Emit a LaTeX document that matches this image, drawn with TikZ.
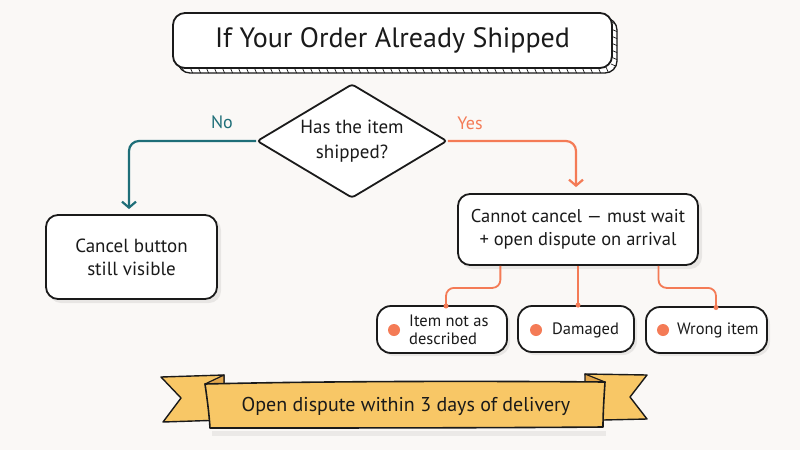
\documentclass[tikz,border=0pt]{standalone}
\usepackage{fontspec}
\setmainfont{PT Sans}
\usetikzlibrary{shapes.geometric,arrows.meta,calc}
\definecolor{bg}{HTML}{FAF8F6}
\definecolor{teal}{HTML}{1E6E78}
\definecolor{orng}{HTML}{F47B56}
\definecolor{ribbon}{HTML}{F8C766}
\definecolor{ribbondark}{HTML}{E2A64C}
\definecolor{ink}{HTML}{1A1A1A}
\tikzset{
  sketchbox/.style={draw=ink, line width=1.8pt, rounded corners=12pt, fill=white, inner sep=0pt},
  shadowbox/.style={fill=black, opacity=0.07, rounded corners=12pt, draw=none},
  txt/.style={text=ink, font=\fontsize{18}{22}\selectfont, align=center},
  smalltxt/.style={text=ink, font=\fontsize{16.5}{18}\selectfont, align=left, inner sep=0pt},
  conn/.style={line width=2.2pt, rounded corners=10pt},
  subconn/.style={line width=1.8pt, draw=orng, rounded corners=8pt},
  tip/.style={-{Straight Barb[length=6pt,width=14pt,line width=2.2pt]}},
  bullet/.style={circle, fill=orng, minimum size=12pt, inner sep=0pt},
  enddot/.style={circle, fill=orng, minimum size=5pt, inner sep=0pt},
}
\begin{document}
\begin{tikzpicture}[x=1pt,y=-1pt]
\fill[bg] (0,0) rectangle (800,450);
\useasboundingbox (0,0) rectangle (800,450);

% ---------- title with 3D edge ----------
\begin{scope}
  \path[draw=ink, line width=1.3pt, fill=white, rounded corners=12pt] (178,18) rectangle (617,73);
  \clip[rounded corners=12pt] (178,18) rectangle (617,73);
  \foreach \x in {182,190,...,614} \draw[ink, line width=0.7pt] (\x,67) -- (\x+3,74);
  \foreach \y in {22,29,...,70} \draw[ink, line width=0.7pt] (611,\y) -- (618,\y+3);
\end{scope}
\node[sketchbox, minimum width=439pt, minimum height=55pt, font=\fontsize{28}{32}\selectfont, text=ink] (title) at (392.5,40.5) {If Your Order Already Shipped};

% ---------- decision ----------
\node[diamond, draw=ink, line width=1.8pt, fill=white, rounded corners=3pt, aspect=1.67,
      minimum width=190pt, minimum height=114pt, inner sep=0pt, txt, font=\fontsize{19}{25}\selectfont] (dia) at (352,141) {Has the item\\shipped?};

% ---------- left box ----------
\fill[shadowbox] (49,218) rectangle (221,303);
\node[sketchbox, minimum width=171pt, minimum height=84pt, txt, font=\fontsize{19}{23}\selectfont] (cancel) at (131.5,257) {Cancel button\\still visible};

% ---------- right box ----------
\fill[shadowbox] (461,197) rectangle (702,269);
\node[sketchbox, minimum width=240pt, minimum height=71pt, txt, font=\fontsize{18.5}{23}\selectfont] (cannot) at (578,229.5) {Cannot cancel --- must wait\\+ open dispute on arrival};

% ---------- main connectors ----------
\draw[conn, teal, tip, shorten >=5pt] (dia.west) -| ($(cancel.north)+(-2.5,0)$);
\node[text=teal, font=\fontsize{18}{20}\selectfont] (nolab) at (222,122) {No};
\draw[conn, orng, tip, shorten >=6pt] (dia.east) -| ($(cannot.north)+(-2,0)$);
\node[text=orng, font=\fontsize{18}{20}\selectfont] (yeslab) at (470,123) {Yes};

% ---------- small boxes ----------
\fill[shadowbox, rounded corners=14pt] (380,309) rectangle (510,356);
\fill[shadowbox, rounded corners=14pt] (521,309) rectangle (637,355);
\fill[shadowbox, rounded corners=14pt] (649,310) rectangle (770,356);
\node[sketchbox, rounded corners=14pt, minimum width=130pt, minimum height=47pt] (b1) at (442,329.5) {};
\node[sketchbox, rounded corners=14pt, minimum width=116pt, minimum height=46pt] (b2) at (576,329) {};
\node[sketchbox, rounded corners=14pt, minimum width=121pt, minimum height=46pt] (b3) at (706.5,330) {};
\node[bullet] (d1) at (394,330) {};
\node[bullet] (d2) at (536,330) {};
\node[bullet] (d3) at (663,330) {};
\node[smalltxt, anchor=west] (t1) at (409,330) {Item not as\\described};
\node[smalltxt, anchor=west] (t2) at (552,330) {Damaged};
\node[smalltxt, anchor=west] (t3) at (677,330) {Wrong item};

% ---------- sub connectors ----------
\coordinate (s1) at ($(cannot.south west)!0.179!(cannot.south east)$);
\coordinate (s2) at ($(cannot.south west)!0.5!(cannot.south east)$);
\coordinate (s3) at ($(cannot.south west)!0.833!(cannot.south east)$);
\coordinate (e1) at (446,306);
\coordinate (e2) at (s2 |- b2.north);
\coordinate (e3) at (716,307.5);
\draw[subconn] (s1) -- ($(s1)+(0,22)$) -| (e1);
\draw[subconn] (s2) -- (e2);
\draw[subconn] (s3) -- ($(s3)+(0,22)$) -| (e3);
\node[enddot] (x1) at (e1) {};
\node[enddot] (x2) at (e2) {};
\node[enddot] (x3) at (e3) {};

% ---------- banner ----------
\fill[black, opacity=0.06] (212,431) rectangle (606,436);
\filldraw[fill=ribbon, draw=ink, line width=1.4pt, line join=round]
  (161,377) -- (224,375) -- (224,420) -- (163,422) -- (181,398) -- cycle;
\filldraw[fill=ribbon, draw=ink, line width=1.4pt, line join=round]
  (585,374) -- (647,375) -- (630,397) -- (647,419) -- (603,420) -- cycle;
\filldraw[fill=ribbondark, draw=ink, line width=1.2pt, line join=round]
  (205,384) -- (224,375) -- (224,384) -- cycle;
\filldraw[fill=ribbondark, draw=ink, line width=1.2pt, line join=round]
  (585,374) -- (605,382) -- (585,382) -- cycle;
\filldraw[fill=ribbon, draw=ink, line width=1.6pt, line join=round]
  (205,384) .. controls (330,381) and (480,381) .. (605,382)
  .. controls (604,398) and (603,412) .. (603,427)
  .. controls (480,428) and (330,428) .. (210,428)
  .. controls (209,412) and (207,398) .. (205,384) -- cycle;
\node[text=ink, font=\fontsize{20}{24}\selectfont] (banner) at (406,406) {Open dispute within 3 days of delivery};
\end{tikzpicture}
\end{document}
